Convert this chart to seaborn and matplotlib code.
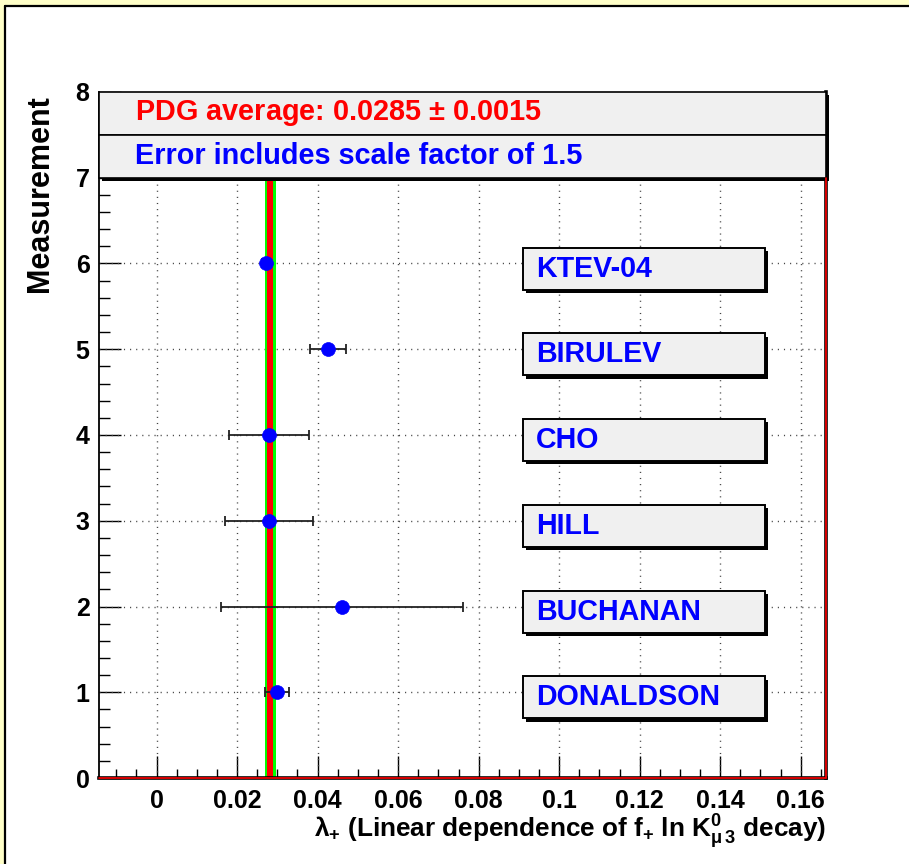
import matplotlib
matplotlib.use("Agg")
import matplotlib.pyplot as plt
import seaborn as sns
import numpy as np
import pandas as pd
from matplotlib import font_manager as fm, patheffects as pe
from matplotlib.patches import Rectangle
from matplotlib.lines import Line2D
from matplotlib.ticker import FixedLocator, MultipleLocator

# ---------------- data ----------------
experiments = ["DONALDSON", "BUCHANAN", "HILL", "CHO", "BIRULEV", "KTEV-04"]
measurement = [1, 2, 3, 4, 5, 6]
values = [0.0299, 0.0460, 0.0279, 0.0279, 0.0426, 0.0271]
errors = [0.0029, 0.0300, 0.0110, 0.0099, 0.0044, 0.0009]
pdg_avg = 0.0285
pdg_err = 0.0015
scale_factor = 1.5
band_outer = [0.0269, 0.0296]
band_inner = [0.0273, 0.0289]
x_ticks = [0, 0.02, 0.04, 0.06, 0.08, 0.1, 0.12, 0.14, 0.16]
x_tick_labels = ["0", "0.02", "0.04", "0.06", "0.08", "0.1", "0.12", "0.14", "0.16"]
y_ticks = [0, 1, 2, 3, 4, 5, 6, 7, 8]
y_tick_labels = ["0", "1", "2", "3", "4", "5", "6", "7", "8"]
header_lines = [f"PDG average: {pdg_avg} $\\pm$ {pdg_err:.4f}",
                f"Error includes scale factor of {scale_factor}"]
header_colors = ["red", "blue"]

df = pd.DataFrame({"experiment": experiments, "measurement": measurement,
                   "value": values, "error": errors})

base = "Liberation Sans"

sns.set_theme(style="white")
plt.rcParams["font.family"] = [base, "DejaVu Sans"]
plt.rcParams["font.weight"] = "bold"
plt.rcParams["mathtext.fontset"] = "custom"
plt.rcParams["mathtext.rm"] = f"{base}:bold"
plt.rcParams["mathtext.it"] = f"{base}:bold"
plt.rcParams["mathtext.bf"] = f"{base}:bold"
plt.rcParams["mathtext.sf"] = f"{base}:bold"
plt.rcParams["mathtext.fallback"] = "stixsans"

W, H = 909, 864
fig = plt.figure(figsize=(W / 100, H / 100), dpi=100)
fig.patch.set_facecolor("#ffffc8")
# white canvas panel with black left/top borders
fig.patches.append(Rectangle((5 / W, -0.01), 1.0, (H - 6) / H + 0.01,
                             transform=fig.transFigure, facecolor="white",
                             edgecolor="none", zorder=-10))
fig.lines.append(Line2D([5 / W, 5 / W], [0, (H - 5.5) / H], transform=fig.transFigure,
                        color="black", lw=1.6, zorder=-9))
fig.lines.append(Line2D([5 / W, 1], [(H - 5.5) / H, (H - 5.5) / H], transform=fig.transFigure,
                        color="black", lw=1.6, zorder=-9))

ax_l, ax_r, ax_b, ax_t = 99.3, 826, 778, 92
ax = fig.add_axes([ax_l / W, (H - ax_b) / H, (ax_r - ax_l) / W, (ax_b - ax_t) / H])
ax.set_facecolor("none")
xmin, xmax = -0.01424, 0.1663
ax.set_xlim(xmin, xmax)
ax.set_ylim(0, 8)

# dotted grid (below the header)
dot = (0, (0.8, 3.6))
for xt in x_ticks:
    ax.plot([xt, xt], [0, 7], color="#444444", lw=1.0, ls=dot, zorder=1)
for yt in y_ticks[1:7]:
    ax.plot([xmin, xmax], [yt, yt], color="#444444", lw=1.0, ls=dot, zorder=1)

# PDG band
ax.fill_betweenx([0, 7], band_outer[0], band_outer[1], color="#00ff00", lw=0, zorder=2)
ax.fill_betweenx([0, 7], band_inner[0], band_inner[1], color="#ff0000", lw=0, zorder=2.1)

# measurements
ax.errorbar(df["value"], df["measurement"], xerr=df["error"], fmt="none",
            ecolor="#222222", elinewidth=1.3, capsize=3.5, capthick=1.3, zorder=3)
sns.scatterplot(data=df, x="value", y="measurement", color="blue", edgecolor="blue",
                s=100, linewidth=0.5, ax=ax, zorder=4, legend=False)

shadow = [pe.SimplePatchShadow(offset=(2.3, -2.3), shadow_rgbFace="black", alpha=1.0),
          pe.Normal()]

# experiment label boxes
bx0, bx1, bh = 0.0909, 0.1512, 0.49
for name, m in zip(experiments, measurement):
    yc = m - 0.06
    r = Rectangle((bx0, yc - bh / 2), bx1 - bx0, bh, facecolor="#f0f0f0",
                  edgecolor="black", lw=1.4, zorder=5)
    r.set_path_effects(shadow)
    ax.add_patch(r)
    ax.text(0.0943, yc, name, color="blue", fontsize=20.6, fontweight="bold",
            va="center", ha="left", zorder=6)

# header boxes
for i, (txt, col) in enumerate(zip(header_lines, header_colors)):
    y0 = 7.5 - 0.5 * i
    r = Rectangle((xmin, y0), xmax - xmin, 0.5, facecolor="#f0f0f0",
                  edgecolor="black", lw=1.2, zorder=5, clip_on=False)
    r.set_path_effects(shadow)
    ax.add_patch(r)
    ax.text(-0.0054, y0 + 0.25, txt, color=col, fontsize=20.8, fontweight="bold",
            va="center", ha="left", zorder=6)

# ticks
ax.xaxis.set_major_locator(FixedLocator(x_ticks))
ax.set_xticklabels(x_tick_labels)
ax.xaxis.set_minor_locator(MultipleLocator(0.005))
ax.yaxis.set_major_locator(FixedLocator(y_ticks))
ax.set_yticklabels(y_tick_labels)
ax.yaxis.set_minor_locator(MultipleLocator(0.2))
ax.tick_params(axis="both", which="both", direction="in", colors="black",
               labelsize=18, width=1.0, top=False, right=False)
ax.tick_params(axis="x", which="major", length=16, pad=8, bottom=True)
ax.tick_params(axis="x", which="minor", length=6.5, bottom=True)
ax.tick_params(axis="y", which="major", length=16, pad=7, left=True)
ax.tick_params(axis="y", which="minor", length=8, left=True)
for lab in ax.get_xticklabels() + ax.get_yticklabels():
    lab.set_fontweight("bold")

# spines
ax.spines["top"].set_visible(False)
ax.spines["left"].set_color("black")
ax.spines["left"].set_linewidth(1.3)
ax.spines["bottom"].set_color("black")
ax.spines["bottom"].set_linewidth(2.6)
ax.spines["right"].set_color("black")
ax.spines["right"].set_linewidth(2.6)
ax.plot([xmin, xmax], [0, 0], color="red", lw=1.2, clip_on=False, zorder=7)
ax.plot([xmax, xmax], [0, 7], color="red", lw=1.2, clip_on=False, zorder=7)

# axis titles
ax.set_ylabel("Measurement", fontsize=22, fontweight="bold", color="black")
ax.yaxis.set_label_coords(-0.0816, 0.995)
ax.yaxis.label.set_ha("right")
ax.yaxis.label.set_va("center")
ax.set_xlabel("λ$_{+}$ (Linear dependence of f$_{+}$ ln K$^{0}_{\\mu\\,3}$ decay)",
              fontsize=18.8, fontweight="bold", color="black")
ax.xaxis.set_label_coords(1.0, -0.078)
ax.xaxis.label.set_ha("right")
ax.xaxis.label.set_va("center")

fig.savefig("out.png", dpi=100, facecolor=fig.get_facecolor())
